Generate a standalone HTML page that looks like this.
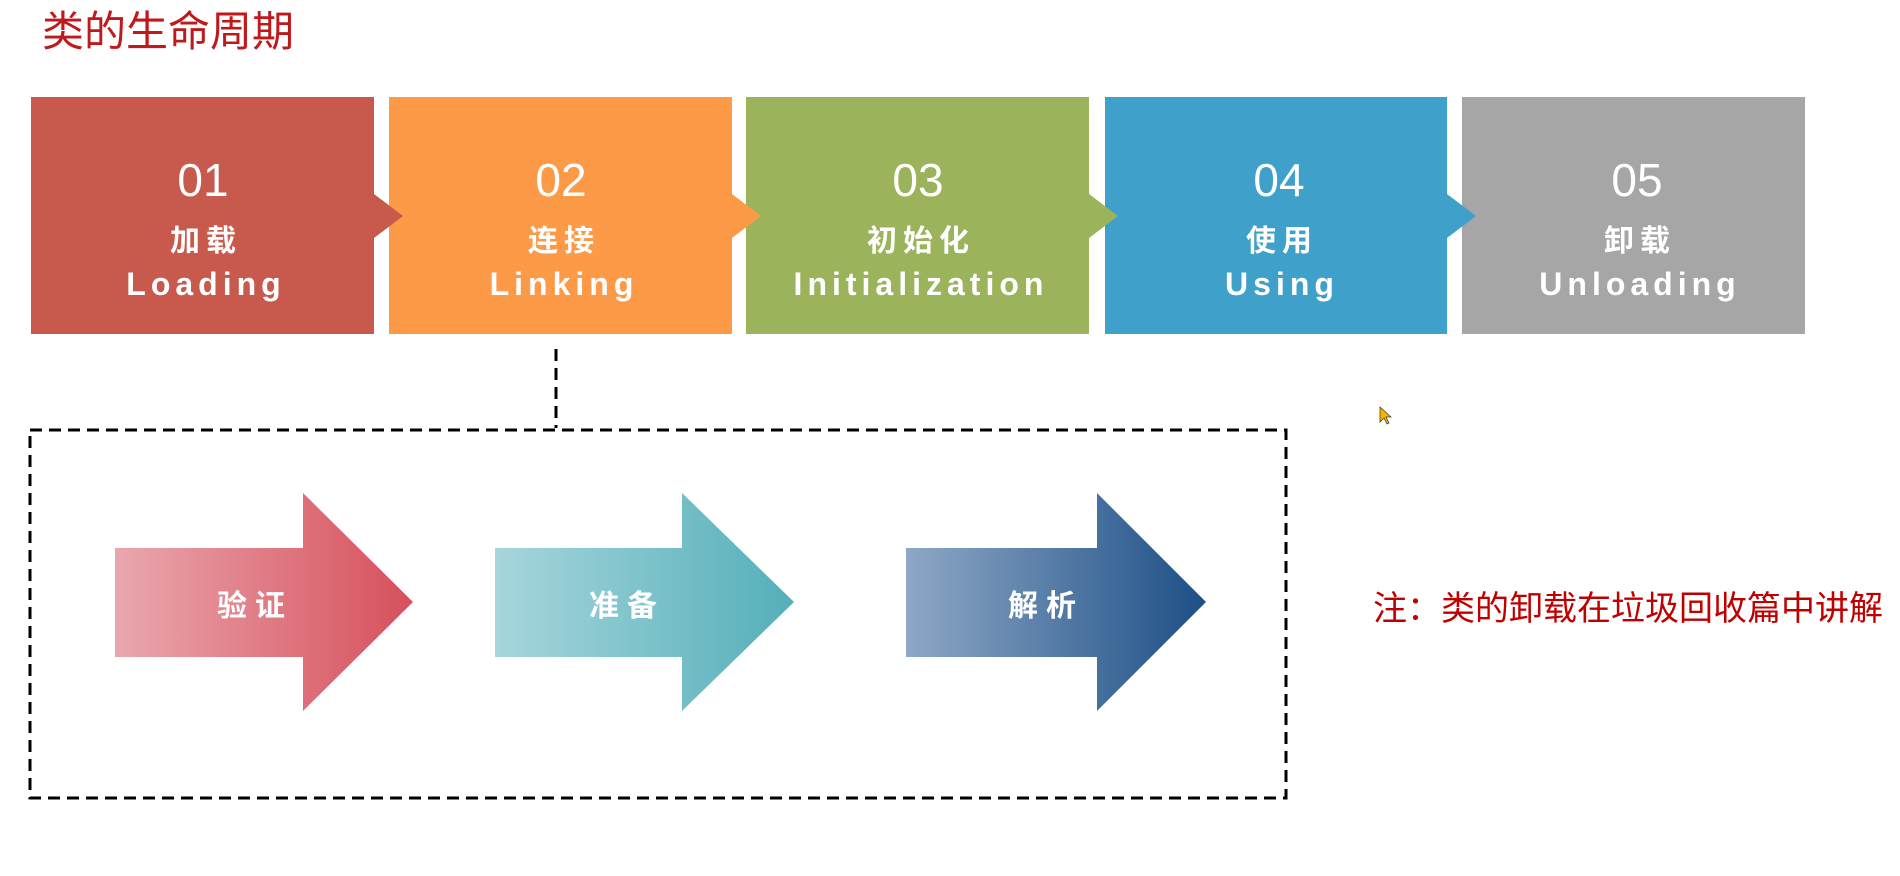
<!DOCTYPE html>
<html><head><meta charset="utf-8"><style>
html,body{margin:0;padding:0;background:#fff;}
body{width:1900px;height:871px;overflow:hidden;}
svg text{font-family:"Liberation Sans","Noto Sans CJK SC",sans-serif;}
</style></head><body>
<svg width="1900" height="871" viewBox="0 0 1900 871" xmlns="http://www.w3.org/2000/svg">
<defs>
<linearGradient id="g1" x1="0" x2="1" y1="0" y2="0"><stop offset="0" stop-color="#eaa7ae"/><stop offset="1" stop-color="#d6505c"/></linearGradient>
<linearGradient id="g2" x1="0" x2="1" y1="0" y2="0"><stop offset="0" stop-color="#a7d6dc"/><stop offset="1" stop-color="#55afb9"/></linearGradient>
<linearGradient id="g3" x1="0" x2="1" y1="0" y2="0"><stop offset="0" stop-color="#8ea8c6"/><stop offset="1" stop-color="#1d4f86"/></linearGradient>
</defs>
<text x="42" y="46" font-size="42" fill="#c0191c" font-family="'Noto Sans CJK SC',sans-serif">类的生命周期</text>

<!-- boxes -->
<g>
<rect x="31" y="97" width="343" height="237" fill="#c85a4d"/>
<rect x="389" y="97" width="343" height="237" fill="#fd9a48"/>
<rect x="746" y="97" width="343" height="237" fill="#9bb35a"/>
<rect x="1105" y="97" width="342" height="237" fill="#3fa0c9"/>
<rect x="1462" y="97" width="343" height="237" fill="#a6a6a6"/>
<polygon points="374,194 403,216 374,238" fill="#c85a4d"/>
<polygon points="732,194 761,216 732,238" fill="#fd9a48"/>
<polygon points="1089,194 1118,216 1089,238" fill="#9bb35a"/>
<polygon points="1447,194 1476,216 1447,238" fill="#3fa0c9"/>
</g>
<g fill="#fff" text-anchor="middle">
<g font-size="46" font-weight="300">
<text x="203" y="196">01</text><text x="561" y="196">02</text><text x="918" y="196">03</text><text x="1279" y="196">04</text><text x="1637" y="196">05</text>
</g>
<g font-size="30" font-weight="bold" letter-spacing="6">
<text x="206" y="251">加载</text><text x="564" y="251">连接</text><text x="921" y="251">初始化</text><text x="1282" y="251">使用</text><text x="1640" y="251">卸载</text>
</g>
<g font-size="32" font-weight="bold" letter-spacing="5">
<text x="206" y="295">Loading</text><text x="564" y="295">Linking</text><text x="921" y="295">Initialization</text><text x="1282" y="295">Using</text><text x="1640" y="295">Unloading</text>
</g>
</g>

<!-- connector and dashed box -->
<line x1="556" y1="349" x2="556" y2="428" stroke="#000" stroke-width="3" stroke-dasharray="12,7"/>
<rect x="30" y="430" width="1256" height="368" fill="none" stroke="#000" stroke-width="3" stroke-dasharray="12,7"/>

<!-- arrows -->
<polygon points="115,548 303,548 303,493 413,602 303,711 303,657 115,657" fill="url(#g1)"/>
<polygon points="495,548 682,548 682,493 794,602 682,711 682,657 495,657" fill="url(#g2)"/>
<polygon points="906,548 1097,548 1097,493 1206,602 1097,711 1097,657 906,657" fill="url(#g3)"/>
<g fill="#fff" font-size="30" font-weight="bold" text-anchor="middle" letter-spacing="8">
<text x="255" y="616">验证</text><text x="627" y="616">准备</text><text x="1046" y="616">解析</text>
</g>

<text x="1373" y="620" font-size="34" fill="#c00000" font-family="'Noto Sans CJK SC',sans-serif">注：类的卸载在垃圾回收篇中讲解</text>
<polygon points="1380,407 1380,422 1384,418 1387,424 1389,423 1386,417 1391,417" fill="#f5b400" stroke="#333" stroke-width="0.7"/>
</svg>
</body></html>
